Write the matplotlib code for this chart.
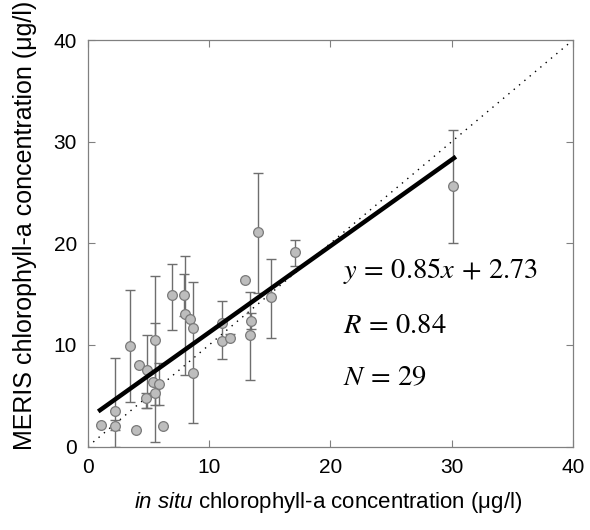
import numpy as np
import matplotlib
matplotlib.use("Agg")
import matplotlib.pyplot as plt

plt.rcParams["font.family"] = ["Liberation Sans", "DejaVu Sans"]
plt.rcParams["mathtext.fontset"] = "custom"
plt.rcParams["mathtext.rm"] = "Liberation Sans"
plt.rcParams["mathtext.it"] = "Liberation Sans:italic"

# in situ vs MERIS chlorophyll-a (ug/l), with error bar ends
insitu = [1.1, 2.2, 2.25, 4.0, 3.5, 4.2, 4.9, 4.75, 5.4, 5.5, 5.5, 5.9, 6.2,
          6.95, 7.9, 8.0, 8.4, 8.65, 8.65, 11.05, 11.1, 11.75, 12.95, 13.45,
          13.35, 14.0, 15.1, 17.1, 30.1]
meris = [2.1, 3.5, 2.05, 1.6, 9.9, 8.0, 7.5, 4.8, 6.4, 10.5, 5.25, 6.2, 2.05,
         14.95, 14.9, 13.0, 12.6, 11.7, 7.2, 12.2, 10.35, 10.65, 16.4, 12.4,
         10.95, 21.1, 14.7, 19.15, 25.6]
err_hi = [2.1, 8.7, 2.6, 1.6, 15.4, 8.0, 11.0, 5.3, 6.4, 16.8, 12.2, 8.2, 2.05,
          18.0, 17.0, 18.75, 12.6, 16.2, 7.2, 14.3, 10.35, 11.1, 16.4, 13.1,
          15.2, 26.95, 18.5, 20.3, 31.15]
err_lo = [2.1, 0.0, 1.6, 1.6, 4.4, 8.0, 3.8, 3.8, 6.4, 0.4, 4.1, 4.1, 2.05,
          11.5, 12.8, 7.05, 12.6, 2.3, 7.2, 8.6, 10.35, 10.65, 16.4, 11.6,
          6.5, 15.1, 10.7, 17.8, 20.05]
slope = 0.85
intercept = 2.73
fit_x = [1.0, 30.2]
ticks = [0, 10, 20, 30, 40]

fig = plt.figure(figsize=(5.9, 5.3), dpi=100)
ax = fig.add_axes([0.149, 0.1575, 0.822, 0.7668])

m = np.array(meris)
yerr = [m - np.array(err_lo), np.array(err_hi) - m]
ax.errorbar(insitu, meris, yerr=yerr, fmt="none", ecolor="#6e6e6e",
            elinewidth=1.0, capsize=3.5, capthick=1.0, zorder=2)
ax.plot(insitu, meris, "o", ms=7, mfc="#bdbdbd", mec="#7a7a7a", mew=0.9, zorder=3)

ax.plot([0, 40], [0, 40], color="black", lw=1.0, ls=(0, (1, 4)), zorder=1)
fx = np.array(fit_x)
ax.plot(fx, slope * fx + intercept, color="black", lw=3.2, zorder=4)

ax.set_xlim(0, 40)
ax.set_ylim(0, 40)
ax.set_xticks(ticks)
ax.set_yticks(ticks)
ax.tick_params(direction="in", length=5, width=0.8, color="#808080",
               labelsize=15, pad=8, top=True, right=True)
for s in ax.spines.values():
    s.set_color("#808080")
    s.set_linewidth(0.9)

ax.set_xlabel(r"$\mathit{in\ situ}$ chlorophyll-a concentration (μg/l)", fontsize=16)
ax.set_ylabel("MERIS chlorophyll-a concentration (μg/l)", fontsize=18)
ax.xaxis.set_label_coords(0.495, -0.108)
ax.yaxis.set_label_coords(-0.105, 0.545)

eq_kw = dict(fontsize=20.5, math_fontfamily="stix", va="baseline", ha="left")
ax.text(21.0, 16.6, r"$y\,=\,0.85x\,+\,2.73$", **eq_kw)
ax.text(21.0, 11.2, r"$R\,=\,0.84$", **eq_kw)
ax.text(21.0, 6.05, r"$N\,=\,29$", **eq_kw)

plt.savefig("out.png", dpi=100)
